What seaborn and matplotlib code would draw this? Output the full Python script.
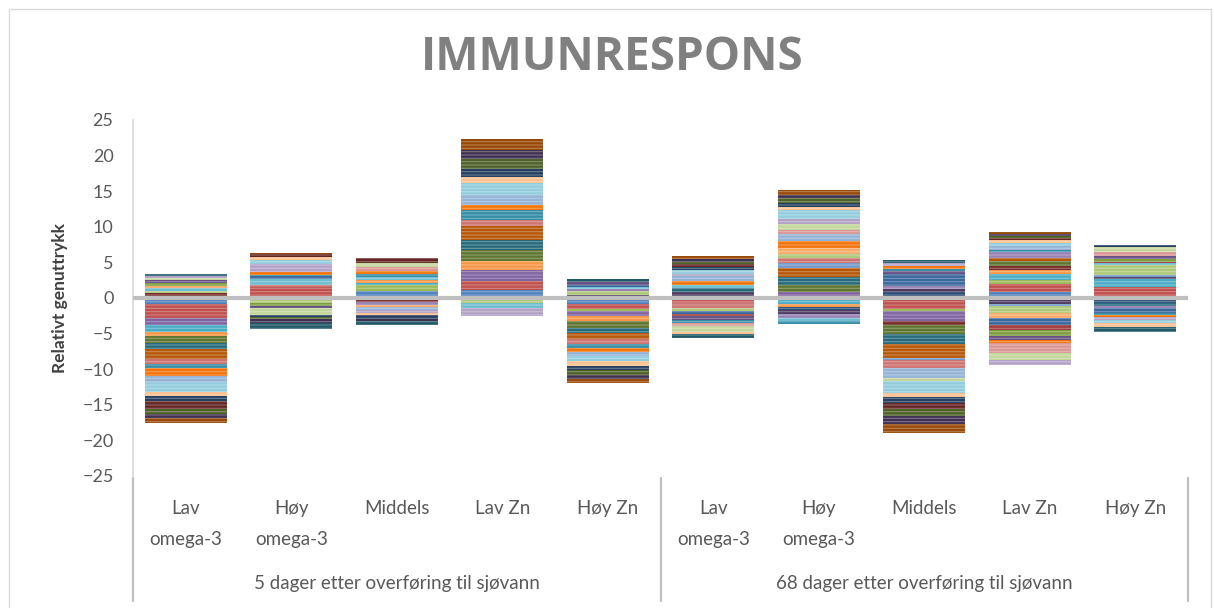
import colorsys

import numpy as np
import pandas as pd
import matplotlib
matplotlib.use("Agg")
import matplotlib.pyplot as plt
import seaborn as sns
from matplotlib.colors import to_rgb
from matplotlib.patches import Rectangle

# Category axis: two sampling times, five diets each
periods = ["5 dager etter overføring til sjøvann", "68 dager etter overføring til sjøvann"]
diets = ["Lav\nomega-3", "Høy\nomega-3", "Middels", "Lav Zn", "Høy Zn"]

# Relative expression of the 36 immune genes (series 1-36) for each diet/time
d5_lav_omega3 = [-0.86, -1.97, 0, -0.94, -0.98, -0.56, 0, 0.65, -0.94, 0, -0.94, -1.40,
                 0, -0.70, 0.35, 0, 0.35, 0.30, 0, 0, 0.40, 0.45, -0.60, -1.03,
                 -0.94, 0, 0.30, 0.35, -1.40, -0.47, -0.70, -1.17, -0.70, -0.60, 0.25, -0.70]
d5_hoy_omega3 = [0, 1.50, 0, 0, 0, 0, 0, -0.30, 0, 0, 0, 0,
                 0, 0.37, -0.40, 0, 0.85, 0, 0.37, 0, -0.45, -0.30, 0.20, 0.37,
                 0, 0, -0.90, 1.15, 0.55, 0.40, -0.35, 0.35, -0.30, -0.50, -0.80, 0.25]
d5_middels = [1.04, 0, 0.84, 0, 0.28, 0.37, 0, -0.57, 0, 0, 0, 0,
              0, 0, 0, -0.37, 0.47, -0.37, 0, 0, 0, 0, 0.37, 0.37,
              -0.37, 0.56, 0.56, -0.37, 0, -0.37, -0.47, 0.73, 0, -0.34, -0.56, 0]
d5_lav_zn = [1.17, 1.17, 0, 1.55, 0, 1.26, 0, 0, 1.64, -0.30, 1.40, 1.87,
             0, 0.94, -0.37, 0, -0.70, 0, 0, 0, 0, 0, 1.40, 0.70,
             1.40, 0, 0, -1.20, 1.64, 0.80, 1.22, 0, 1.36, 1.31, 0, 1.50]
d5_hoy_zn = [-0.91, -0.61, -0.33, -0.61, 0, -0.80, 0, 0, -0.94, 0.45, -0.70, -0.84,
             0, -0.70, 0.60, 0.28, 0.28, 0, 0.28, 0, 0, 0.37, -0.56, -0.61,
             -0.56, 0, 0, 0, -0.70, -0.70, -0.56, 0, -0.75, -0.47, 0.35, -0.56]
d68_lav_omega3 = [0, -0.60, 0, 0, 0, 0, 0, 0, 0, 0.80, 0.65, 0,
                  0, -0.84, -0.33, 0, 0.37, 0, -0.47, -0.30, 0, -0.50, -0.47, 0.60,
                  0.60, -0.40, -0.84, 0.37, 0.50, -0.37, 0.45, 0.37, 0.37, 0.37, -0.56, 0.40]
d68_hoy_omega3 = [0, 0, 0, 0.87, -0.90, -0.37, -0.47, 0, 0.94, -0.56, 1.12, 1.31,
                  0.70, 0.70, 0.56, -0.47, -0.47, 0.84, 0, 0, 0, 0, -0.37, 0.94,
                  0.94, 0.70, 0.80, 0.61, 1.26, 0.47, 0.61, 0, 0.70, 0.37, 0, 0.66]
d68_middels = [0, -1.60, -0.23, -1.40, 0, 0.33, 0.47, -0.61, -1.26, 0.47, -1.40, -1.87,
               -0.33, -1.08, 0, 0.37, 0, 0, 1.78, 0, 0, 0.37, 0.28, 0.37,
               -1.40, 0, -0.47, 0.47, -1.64, -0.61, -0.89, -0.75, -1.03, -1.17, 0.40, -1.17]
d68_lav_zn = [0.86, 1.17, 0.56, 0, 0.80, 0.61, -0.30, 0.47, 0.70, -0.50, 0, 0.47,
              -0.37, 0, -0.94, 0.80, 0, -0.70, -0.94, -0.70, -0.94, -0.56, 0.37, -0.37,
              0.47, -1.38, -0.94, -0.70, 0.47, 0.33, 0, 0.28, 0.33, 0.33, 0, 0.28]
d68_hoy_zn = [0, 1.60, 0, 0, 1.00, 0, -0.67, 0, 0, 0.33, -0.47, 0,
              0.33, 0, 1.31, -0.33, 0.30, 0, -0.61, 0.20, 0.47, 0.33, -0.37, -0.19,
              0, 0.56, 0.75, -0.47, -0.47, -0.47, 0.23, 0, 0, 0, -0.70, 0]

bars = [d5_lav_omega3, d5_hoy_omega3, d5_middels, d5_lav_zn, d5_hoy_zn,
        d68_lav_omega3, d68_hoy_omega3, d68_middels, d68_lav_zn, d68_hoy_zn]
values = np.array(bars)          # shape: (bar, gene)
n_bars, n_genes = values.shape

# Office theme accents, cycled with luminance variations
accents = ["#4F81BD", "#C0504D", "#9BBB59", "#8064A2", "#4BACC6", "#F79646"]
variations = [(1.0, 0.0), (0.6, 0.0), (0.8, 0.2), (0.8, 0.0), (0.6, 0.4), (0.5, 0.0)]


def lum(color, mod, off):
    h, l, s = colorsys.rgb_to_hls(*to_rgb(color))
    return colorsys.hls_to_rgb(h, min(1.0, l * mod + off), s)


def lighten(rgb, amount):
    return tuple(c + (1 - c) * amount for c in rgb)


palette = [lum(accents[i % 6], *variations[i // 6]) for i in range(n_genes)]

sns.set_theme(style="white")
plt.rcParams["font.family"] = ["Lato", "DejaVu Sans"]
plt.rcParams["hatch.linewidth"] = 0.8

W, H = 1214, 608
fig = plt.figure(figsize=(W / 100, H / 100), dpi=100)
ax = fig.add_axes([133 / W, 1 - 476 / H, (1188 - 133) / W, (476 - 120) / H])

# Stacked bars: positive values build upwards, negative values downwards
pos_base = np.zeros(n_bars)
neg_base = np.zeros(n_bars)
x = np.arange(n_bars)
for j in range(n_genes):
    v = values[:, j]
    bottom = np.where(v >= 0, pos_base, neg_base)
    df = pd.DataFrame({"bar": x, "value": v})
    sns.barplot(data=df, x="bar", y="value", bottom=bottom, color=palette[j],
                saturation=1, width=0.78, errorbar=None, ax=ax,
                edgecolor=lighten(palette[j], 0.3), linewidth=0, hatch="-----")
    pos_base += np.clip(v, 0, None)
    neg_base += np.clip(v, None, 0)

ax.axhline(0, color="#BFBFBF", lw=3, zorder=5)

ax.set_xlim(-0.5, n_bars - 0.5)
ax.set_ylim(-25, 25)
ax.set_yticks(np.arange(-25, 26, 5))
ax.tick_params(axis="y", length=0, pad=14, labelsize=13, labelcolor="#595959")
ax.set_xticks(x)
ax.set_xticklabels(diets * 2, fontsize=13.5, color="#595959", linespacing=2.0)
ax.tick_params(axis="x", length=0, pad=17)
ax.set_xlabel("")
ax.set_ylabel("Relativt genuttrykk", fontsize=12.5, fontweight="bold", color="#404040")
ax.yaxis.set_label_coords(-0.0615, 0.5)

for side in ("top", "right", "bottom"):
    ax.spines[side].set_visible(False)
ax.spines["left"].set_color("#D9D9D9")
ax.spines["left"].set_linewidth(1.2)

# Period labels and separators of the two-level category axis
xt = ax.get_xaxis_transform()
for i, label in enumerate(periods):
    ax.text(2 + 5 * i, -0.3006, label, transform=xt, ha="center", va="center",
            fontsize=13.5, color="#595959")
for sep in (-0.5, 4.5, 9.5):
    ax.plot([sep, sep], [-0.006, -0.35], transform=xt, clip_on=False,
            color="#BFBFBF", lw=1.6)

fig.text(612 / W, 1 - 58 / H, "IMMUNRESPONS", ha="center", va="center",
         fontsize=33, fontweight="bold", color="#808080",
         family=["Open Sans", "DejaVu Sans"])

fig.add_artist(Rectangle((9 / W, -0.01), (1211 - 9) / W, 1 - 9 / H + 0.01,
                         transform=fig.transFigure, fill=False,
                         edgecolor="#D9D9D9", lw=1))

fig.savefig("out.png", dpi=100, facecolor="white")
